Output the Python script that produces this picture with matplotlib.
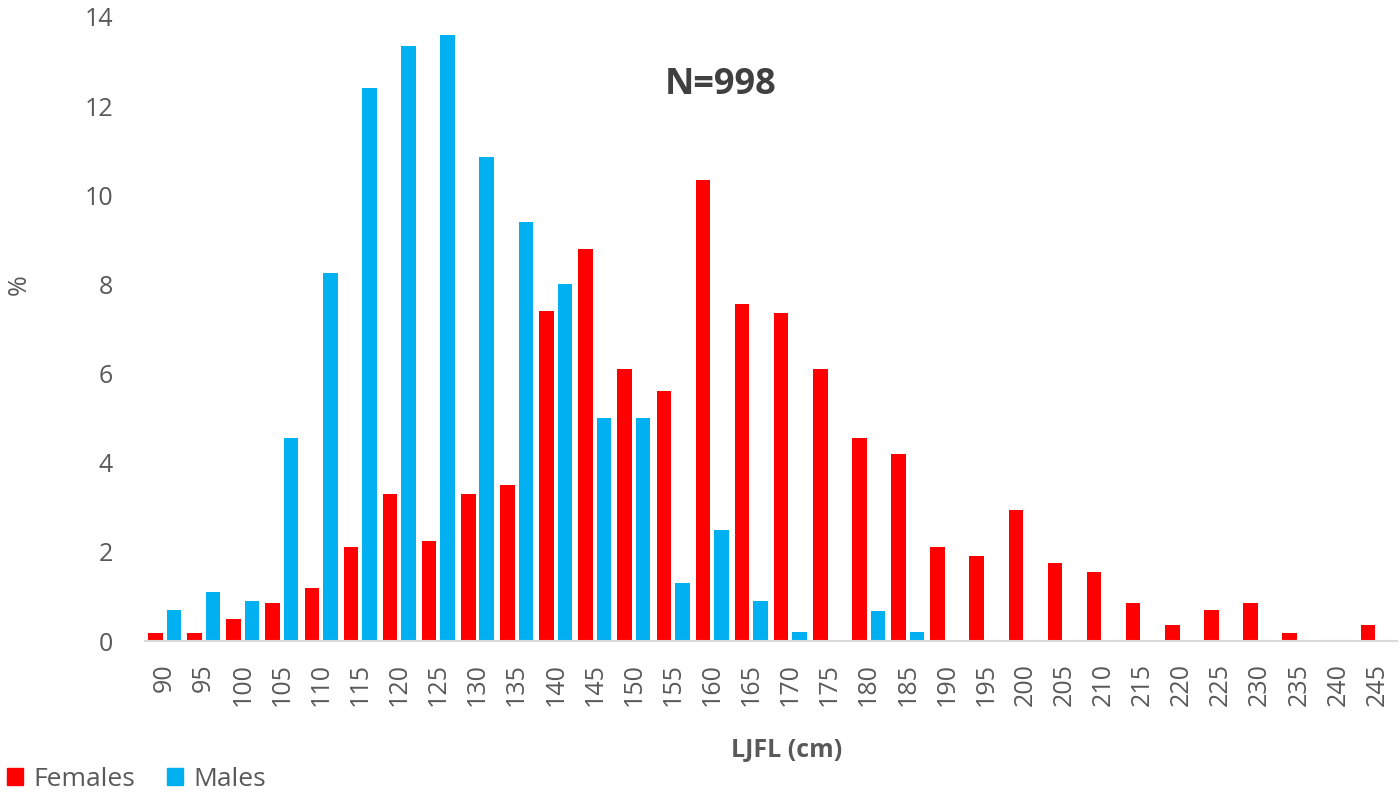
import numpy as np
import matplotlib
matplotlib.use('Agg')
import matplotlib.pyplot as plt
from matplotlib.patches import Patch

# Length classes (cm)
lengths = [90, 95, 100, 105, 110, 115, 120, 125, 130, 135, 140, 145, 150, 155, 160, 165,
           170, 175, 180, 185, 190, 195, 200, 205, 210, 215, 220, 225, 230, 235, 240, 245]

females = [0.18, 0.18, 0.5, 0.85, 1.2, 2.1, 3.3, 2.25, 3.3, 3.5, 7.4, 8.8, 6.1, 5.6, 10.35, 7.55,
           7.35, 6.1, 4.55, 4.2, 2.1, 1.9, 2.95, 1.75, 1.55, 0.85, 0.35, 0.7, 0.85, 0.17, 0.0, 0.35]

males = [0.7, 1.1, 0.9, 4.55, 8.25, 12.4, 13.35, 13.6, 10.85, 9.4, 8.0, 5.0, 5.0, 1.3, 2.5, 0.9,
         0.2, 0.0, 0.67, 0.2, 0, 0, 0, 0, 0, 0, 0, 0, 0, 0, 0, 0]

red = '#FF0000'
blue = '#00B0F0'
grey = '#595959'

plt.rcParams['font.family'] = ['Open Sans', 'DejaVu Sans']

fig = plt.figure(figsize=(14, 7.95), dpi=100)
ax = fig.add_axes([0.1036, 0.1937, 0.894, 0.785])

x = np.arange(len(lengths))
w = 0.37
ax.bar(x - 0.236, females, width=w, color=red)
ax.bar(x + 0.236, males, width=w, color=blue)

ax.set_xlim(-0.5, len(lengths) - 0.5)
ax.set_ylim(0, 14)
ax.set_yticks(range(0, 15, 2))
ax.set_xticks(x)
ax.set_xticklabels([str(v) for v in lengths], rotation=90)
ax.tick_params(axis='y', length=0, pad=23, labelsize=18, labelcolor=grey)
ax.tick_params(axis='x', length=0, pad=16, labelsize=18, labelcolor=grey)

for s in ['top', 'right', 'left']:
    ax.spines[s].set_visible(False)
ax.spines['bottom'].set_color('#D9D9D9')
ax.spines['bottom'].set_linewidth(1.5)

fig.text(787 / 1400, 1 - 750 / 795, 'LJFL (cm)', ha='center', va='center',
         fontsize=18, fontweight='bold', color=grey)
fig.text(19 / 1400, 1 - 285 / 795, '%', ha='center', va='center', rotation=90,
         fontsize=18, color=grey)
fig.text(721 / 1400, 1 - 85 / 795, 'N=998', ha='center', va='center',
         fontsize=26, fontweight='bold', color='#404040')

handles = [Patch(color=red, label='Females'), Patch(color=blue, label='Males')]
fig.legend(handles=handles, loc='lower left', bbox_to_anchor=(-0.012, -0.026), ncol=2,
           frameon=False, fontsize=19, handlelength=0.6, handleheight=0.6,
           handletextpad=0.4, columnspacing=1.2, labelcolor=grey)

fig.savefig('out.png', dpi=100)
